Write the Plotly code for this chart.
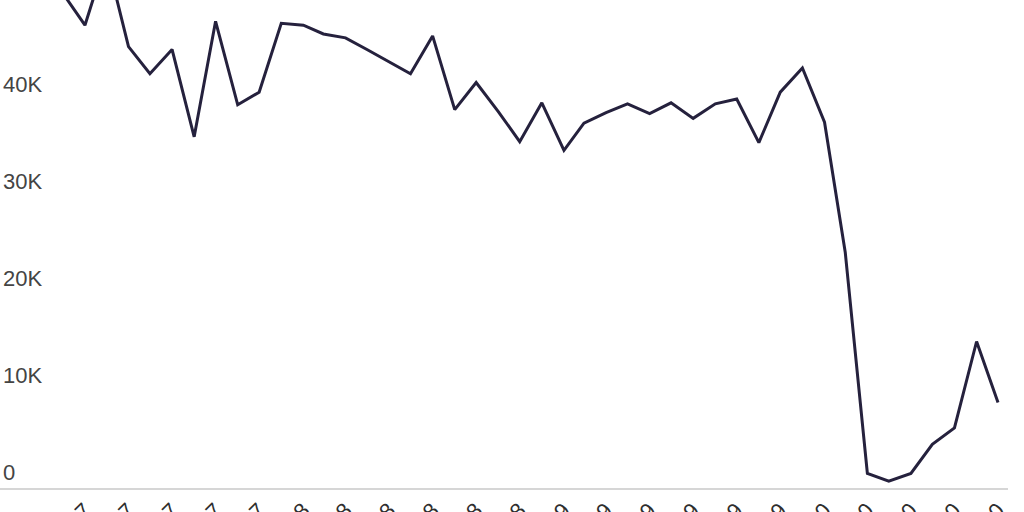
#!/usr/bin/env python3
"""Monthly volume line chart, Mar 2017 - Oct 2020, written to out.html."""
from __future__ import annotations

import plotly.graph_objects as go

MONTHS = [
    "2017-03-01", "2017-04-01", "2017-05-01", "2017-06-01", "2017-07-01", "2017-08-01",
    "2017-09-01", "2017-10-01", "2017-11-01", "2017-12-01",
    "2018-01-01", "2018-02-01", "2018-03-01", "2018-04-01", "2018-05-01", "2018-06-01",
    "2018-07-01", "2018-08-01", "2018-09-01", "2018-10-01", "2018-11-01", "2018-12-01",
    "2019-01-01", "2019-02-01", "2019-03-01", "2019-04-01", "2019-05-01", "2019-06-01",
    "2019-07-01", "2019-08-01", "2019-09-01", "2019-10-01", "2019-11-01", "2019-12-01",
    "2020-01-01", "2020-02-01", "2020-03-01", "2020-04-01", "2020-05-01", "2020-06-01",
    "2020-07-01", "2020-08-01", "2020-09-01", "2020-10-01",
]
VALUES = [
    51000, 47700, 54700, 45500, 42700, 45200, 36200, 48100, 39500, 40800,
    47900, 47700, 46800, 46400, 45200, 43900, 42700, 46600, 39000, 41800, 38800, 35700,
    39700, 34800, 37600, 38700, 39600, 38600, 39700, 38100, 39600, 40100, 35600, 40800,
    43300, 37700, 24300, 1500, 700, 1500, 4500, 6200, 15100, 8800,
]
TICK_MONTHS = [
    "2017-04-01", "2017-06-01", "2017-08-01", "2017-10-01", "2017-12-01",
    "2018-02-01", "2018-04-01", "2018-06-01", "2018-08-01", "2018-10-01", "2018-12-01",
    "2019-02-01", "2019-04-01", "2019-06-01", "2019-08-01", "2019-10-01", "2019-12-01",
    "2020-02-01", "2020-04-01", "2020-06-01", "2020-08-01", "2020-10-01",
]
TICK_LABELS = [
    "Apr 2017", "Jun 2017", "Aug 2017", "Oct 2017", "Dec 2017",
    "Feb 2018", "Apr 2018", "Jun 2018", "Aug 2018", "Oct 2018", "Dec 2018",
    "Feb 2019", "Apr 2019", "Jun 2019", "Aug 2019", "Oct 2019", "Dec 2019",
    "Feb 2020", "Apr 2020", "Jun 2020", "Aug 2020", "Oct 2020",
]
Y_TICKS = [0, 10000, 20000, 30000, 40000]
Y_LABELS = ["0", "10K", "20K", "30K", "40K"]

LINE_COLOR = "#25213d"
TEXT_COLOR = "#2e2e2e"
FONT = "Liberation Sans, Arial, sans-serif"


def build_figure() -> go.Figure:
    fig = go.Figure()
    fig.add_trace(
        go.Scatter(
            x=MONTHS,
            y=VALUES,
            mode="lines",
            line=dict(color=LINE_COLOR, width=3),
            hoverinfo="x+y",
        )
    )
    fig.update_layout(
        width=1024,
        height=512,
        margin=dict(l=0, r=16, t=0, b=24),
        paper_bgcolor="white",
        plot_bgcolor="white",
        showlegend=False,
        font=dict(family=FONT, size=22, color=TEXT_COLOR),
    )
    fig.update_xaxes(
        type="date",
        range=["2016-12-03", "2020-10-15"],
        tickvals=TICK_MONTHS,
        ticktext=TICK_LABELS,
        tickangle=-45,
        ticklabelstandoff=-1,
        showgrid=False,
        zeroline=False,
        showline=True,
        linecolor="#d6d6d6",
        linewidth=2,
        ticks="",
        automargin=False,
    )
    fig.update_yaxes(
        range=[0, 50300],
        tickvals=Y_TICKS,
        ticktext=Y_LABELS,
        ticklabelposition="inside top",
        showgrid=False,
        zeroline=False,
        showline=False,
        ticks="",
        automargin=False,
    )
    return fig


def main() -> None:
    fig = build_figure()
    # the page's default body margin would push the chart 8px in
    fig.write_html(
        "out.html",
        config={"displayModeBar": False},
        post_script="document.body.style.margin = '0';",
    )
    print("Saved out.html")


if __name__ == "__main__":
    main()
